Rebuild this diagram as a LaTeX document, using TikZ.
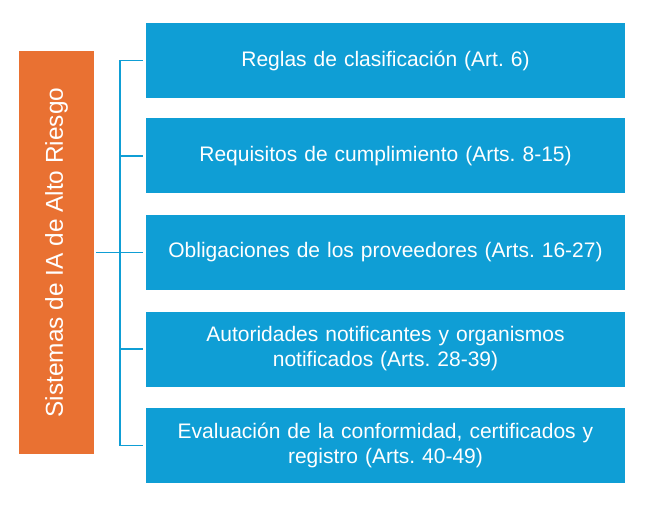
\documentclass[tikz,border=0pt]{standalone}
\usepackage{fontspec}
\setmainfont{Liberation Sans}
\frenchspacing
\definecolor{boxblue}{HTML}{0F9ED5}
\definecolor{sideorange}{HTML}{E97132}
\begin{document}
\begin{tikzpicture}[x=1pt,y=-1pt,
  item/.style={fill=boxblue,draw=none,minimum width=479pt,minimum height=75pt,inner sep=0pt,
    text=white,align=center,font=\fontsize{21}{25}\selectfont,text width=470pt},
  side/.style={fill=sideorange,draw=none,minimum width=75pt,minimum height=403pt,inner sep=0pt},
  conn/.style={draw=boxblue,line width=1.8pt}]
\useasboundingbox (0,0) rectangle (653,513);
\node[side] (s) at (56.5,252.5) {};
\node[rotate=90,text=white,font=\fontsize{24.4}{28}\selectfont] (st) at (s.center) {Sistemas de IA de Alto Riesgo};
\node[item] (b1) at (385.5,60.5) {Reglas de clasificación (Art. 6)};
\node[item] (b2) at (385.5,156) {Requisitos de cumplimiento (Arts. 8-15)};
\node[item] (b3) at (385.5,252.5) {Obligaciones de los proveedores (Arts. 16-27)};
\node[item] (b4) at (385.5,349) {Autoridades notificantes y organismos\\notificados (Arts. 28-39)};
\node[item] (b5) at (385.5,445.5) {Evaluación de la conformidad, certificados y\\registro (Arts. 40-49)};
\coordinate (j) at (120,252.5);
\coordinate (t) at (120,60.5);
\coordinate (bt) at (120,445.5);
\draw[conn] ([xshift=2pt]s.east) -- ([xshift=-3pt]b3.west);
\draw[conn] (t) -- (bt);
\foreach \b in {b1,b2,b4,b5}{
  \draw[conn] (t |- \b.west) -- ([xshift=-3pt]\b.west);
}
\end{tikzpicture}
\end{document}
